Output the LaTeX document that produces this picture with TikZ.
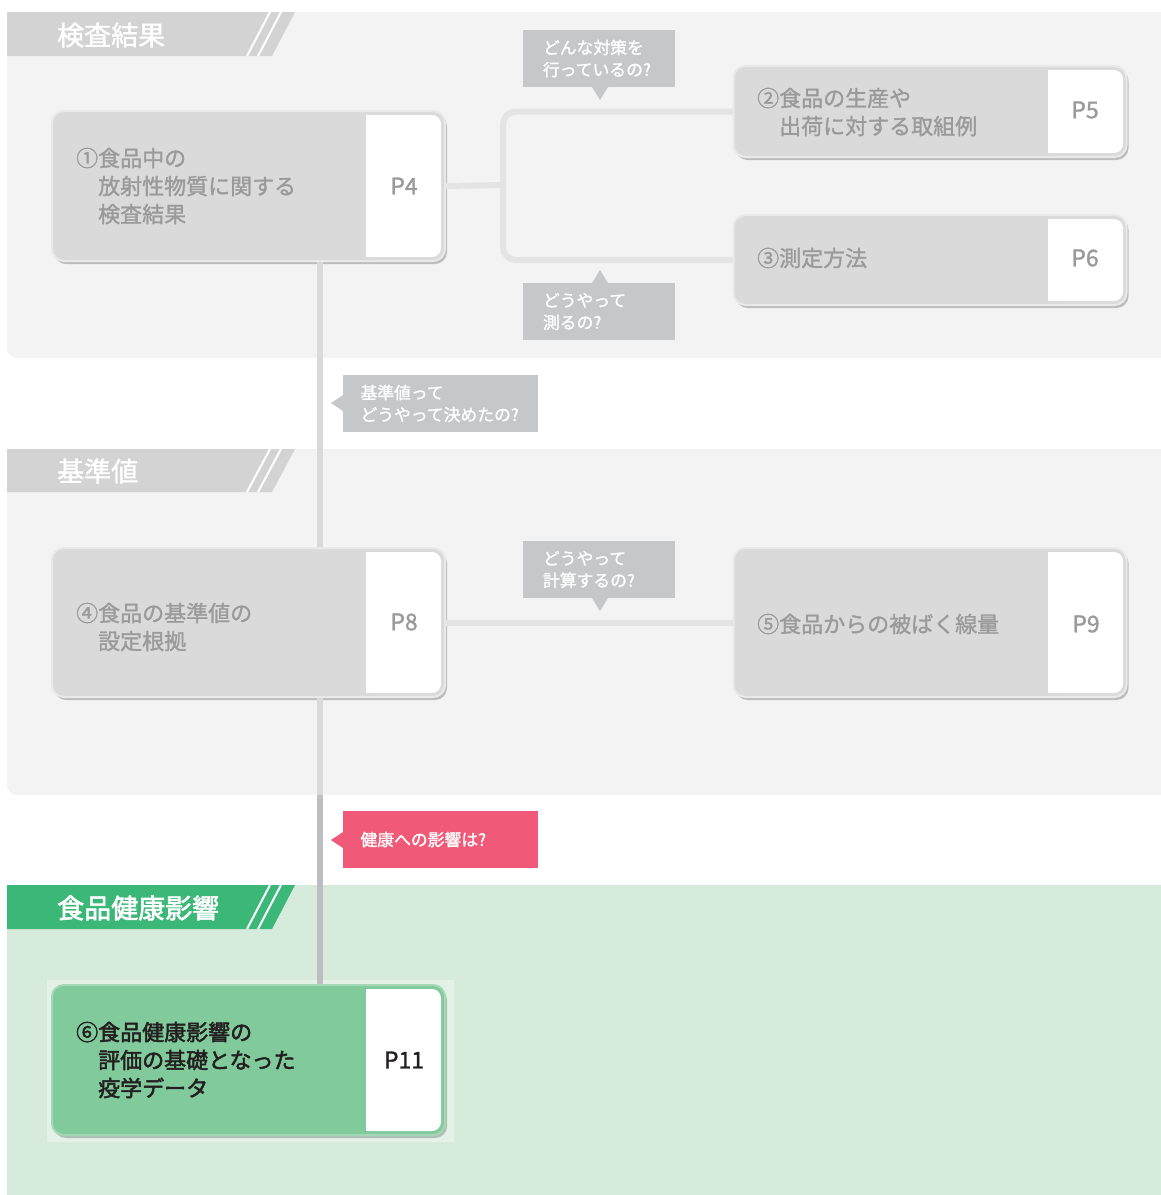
\documentclass[tikz,border=0pt]{standalone}
\usepackage{fontspec}
\setmainfont{Noto Sans CJK JP}
\newfontfamily\medfont{Noto Sans CJK JP}[BoldFont={Noto Sans CJK JP},BoldFeatures={FakeBold=1.3}]
\newfontfamily\strongfont{Noto Sans CJK JP}[BoldFont={Noto Sans CJK JP},BoldFeatures={FakeBold=2.2}]
\usetikzlibrary{shadows}
\definecolor{bgG}{HTML}{F3F3F3}
\definecolor{bandG}{HTML}{D3D3D3}
\definecolor{boxF}{HTML}{DADADA}
\definecolor{boxL}{HTML}{E9E9E9}
\definecolor{txtG}{HTML}{9A9A9A}
\definecolor{callG}{HTML}{C6C7C9}
\definecolor{connG}{HTML}{E4E4E4}
\definecolor{vertG}{HTML}{DADADA}
\definecolor{vertD}{HTML}{BDBEC2}
\definecolor{pinkC}{HTML}{F05A78}
\definecolor{bandV}{HTML}{3BB878}
\definecolor{bgV}{HTML}{D7EBDD}
\definecolor{frameV}{HTML}{E3F1E7}
\definecolor{boxV}{HTML}{80CA9B}
\definecolor{lineV}{HTML}{A3D8B5}
\definecolor{txtD}{HTML}{231F20}
\newcommand\pnl[4]{\fill[white,rounded corners=9pt] (#1,#2) rectangle (#3,#4);\fill[white] (#1,#2) rectangle ({#1+15},#4);}
\newcommand\band[3]{%
  \fill[#3] (7,#1) -- (295,#1) -- (272,#2) -- (7,#2) -- cycle;
  \draw[white,line width=2pt] (270,#1) -- (247,#2);
  \draw[white,line width=2pt] (281,#1) -- (258,#2);}
\tikzset{
  box/.style={draw=boxL,line width=2pt,fill=boxF,rounded corners=12pt,minimum width=393pt,inner sep=0pt,
    drop shadow={shadow xshift=2pt,shadow yshift=-3pt,opacity=.22,fill=black}},
  gbox/.style={box,draw=lineV,fill=boxV},
  ttl/.style={anchor=west,align=left,text=txtG,font=\fontsize{22}{28}\selectfont\medfont\bfseries,inner sep=0pt},
  pg/.style={text=txtG,font=\fontsize{23}{26}\selectfont\medfont\bfseries,inner sep=0pt},
  call/.style={fill=callG,text=white,align=left,font=\fontsize{16.8}{22}\selectfont\medfont\bfseries,minimum width=152pt,minimum height=57pt,text width=112pt,inner xsep=20pt,inner ysep=0pt},
  wcall/.style={call,minimum width=195pt,text width=160pt,inner xsep=17.5pt},
  hdr/.style={anchor=west,text=white,font=\fontsize{27}{30}\selectfont\medfont\bfseries,inner sep=0pt},
  conn/.style={connG,line width=6pt},
}
\begin{document}
\begin{tikzpicture}[x=1pt,y=-1pt]
\useasboundingbox (0,0) rectangle (1161,1195);
\fill[white] (0,0) rectangle (1161,1195);
% sections
\fill[bgG,rounded corners=10pt] (7,12) rectangle (1180,358);
\fill[bgG,rounded corners=10pt] (7,449) rectangle (1180,795);
\fill[bgV] (7,885) rectangle (1180,1200);
\band{12}{56}{bandG}
\band{449}{492}{bandG}
\band{885}{929}{bandV}
\node[hdr] (h1) at (57,35) {検査結果};
\node[hdr] (h2) at (57,471) {基準値};
\node[hdr,font=\fontsize{27}{30}\selectfont\strongfont\bfseries] (h3) at (57,908) {食品健康影響};
\fill[frameV] (47,980) rectangle (454,1142);
% main vertical line
\coordinate (v) at (320,0);
\coordinate (sp) at (320,795);
% boxes
\node[box,minimum height=150pt] (b1) at (248.5,186) {};
\node[box,minimum height=91pt] (b2) at (930,111.5) {};
\node[box,minimum height=90pt] (b3) at (930,260) {};
\node[box,minimum height=149pt] (b4) at (248.5,622.5) {};
\node[box,minimum height=149pt] (b5) at (930,622.5) {};
\node[gbox,minimum height=150pt] (b6) at (248.5,1060) {};
% connectors
\coordinate (j) at (503,185);
\draw[conn] (b1.east) -- (j);
\draw[conn,rounded corners=13pt] (b2.west) -| (j) |- (b3.west);
\draw[conn] (b4.east) -- (b5.west);
\draw[vertG,line width=6pt] (b1.south -| v) -- (b4.north -| v);
\draw[vertG,line width=6pt] (b4.south -| v) -- (sp);
\draw[vertD,line width=6pt] (sp) -- (b6.north -| v);
% panels
\pnl{366}{115}{441}{257}
\pnl{1048}{70}{1123}{153}
\pnl{1048}{219}{1123}{301}
\pnl{366}{552}{441}{693}
\pnl{1048}{552}{1123}{693}
\pnl{366}{989}{441}{1131}
% texts
\node[ttl] (t1) at (76,186) {\makebox[1em][l]{①}食品中の\\\hspace*{1em}放射性物質に関する\\\hspace*{1em}検査結果};
\node[ttl] (t2) at (757,112) {\makebox[1em][l]{②}食品の生産や\\\hspace*{1em}出荷に対する取組例};
\node[ttl] (t3) at (757,258) {\makebox[1em][l]{③}測定方法};
\node[ttl] (t4) at (76,627) {\makebox[1em][l]{④}食品の基準値の\\\hspace*{1em}設定根拠};
\node[ttl] (t5) at (757,624) {\makebox[1em][l]{⑤}食品からの被ばく線量};
\node[ttl,text=txtD,font=\fontsize{22}{28}\selectfont\strongfont\bfseries] (t6) at (76,1060) {\makebox[1em][l]{⑥}食品健康影響の\\\hspace*{1em}評価の基礎となった\\\hspace*{1em}疫学データ};
\node[pg] (p4) at (404,186) {P4};
\node[pg] (p5) at (1085,110) {P5};
\node[pg] (p6) at (1085,258) {P6};
\node[pg] (p8) at (404,622) {P8};
\node[pg] (p9) at (1086,624) {P9};
\node[pg,text=txtD] (p11) at (404,1060) {P11};
% callouts
\node[call] (c1) at (599,58.5) {どんな対策を\\行っているの?};
\fill[callG] (592,87) -- (608,87) -- (600,100) -- cycle;
\node[call] (c2) at (599,311.5) {どうやって\\測るの?};
\fill[callG] (592,283) -- (608,283) -- (600,270) -- cycle;
\node[wcall] (c3) at (440.5,403.5) {基準値って\\どうやって決めたの?};
\fill[callG] (343,395) -- (343,411) -- (331,403) -- cycle;
\node[call] (c4) at (599,569.5) {どうやって\\計算するの?};
\fill[callG] (592,598) -- (608,598) -- (600,611) -- cycle;
\node[wcall,fill=pinkC] (c5) at (440.5,839.5) {健康への影響は?};
\fill[pinkC] (343,832) -- (343,848) -- (331,840) -- cycle;
\end{tikzpicture}
\end{document}
